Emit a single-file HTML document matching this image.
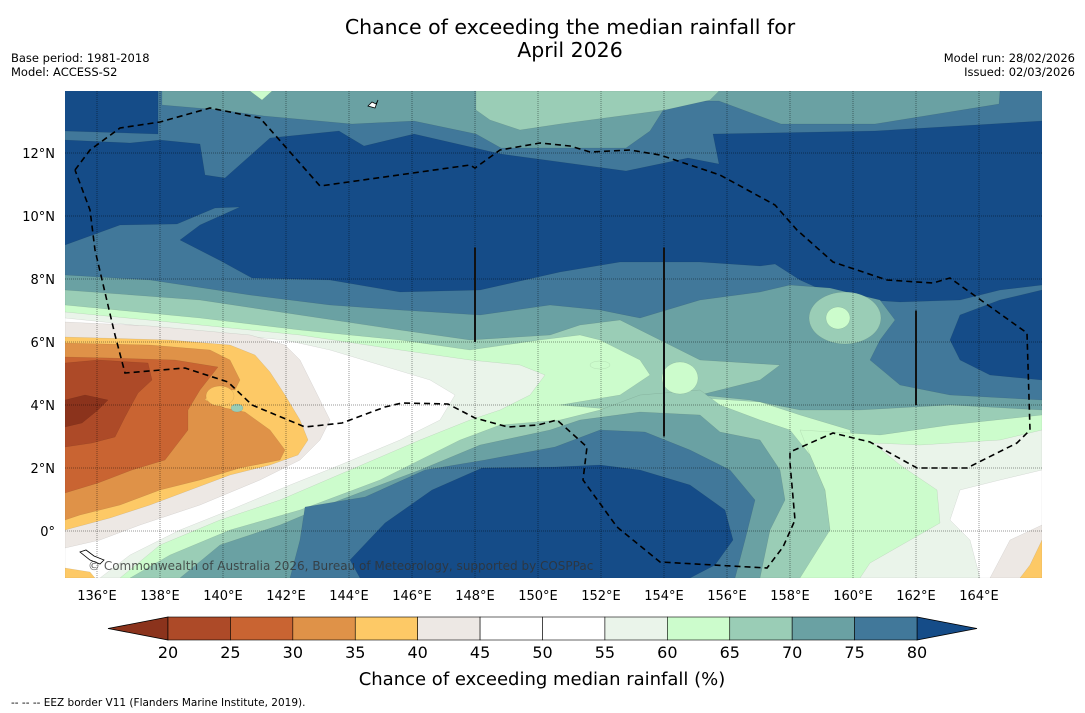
<!DOCTYPE html>
<html><head><meta charset="utf-8"><style>
body{margin:0;background:#fff;width:1085px;height:713px;overflow:hidden;font-family:"DejaVu Sans","Liberation Sans",sans-serif}
svg{position:absolute;left:0;top:0;font-family:"DejaVu Sans","Liberation Sans",sans-serif}
</style></head><body>
<svg id="chart" width="1085" height="713" xmlns="http://www.w3.org/2000/svg">
<text x="570" y="34" text-anchor="middle" font-size="20.5">Chance of exceeding the median rainfall for</text>
<text x="570" y="57" text-anchor="middle" font-size="20.5">April 2026</text>
<text x="11" y="62" font-size="11.5">Base period: 1981-2018</text>
<text x="11" y="76" font-size="11.5">Model: ACCESS-S2</text>
<text x="1075" y="62" font-size="11.5" text-anchor="end">Model run: 28/02/2026</text>
<text x="1075" y="76" font-size="11.5" text-anchor="end">Issued: 02/03/2026</text>
<defs><clipPath id="mapclip"><rect x="65" y="91" width="977" height="487"/></clipPath></defs>
<g id="map" clip-path="url(#mapclip)"></g>
<g id="axes"></g>
<g id="cbar"></g>
<text x="542" y="685" text-anchor="middle" font-size="18">Chance of exceeding median rainfall (%)</text>
<text x="11" y="706" font-size="10.5">--  --  -- EEZ border V11 (Flanders Marine Institute, 2019).</text>
</svg>
<script>
const levels=[20,25,30,35,40,45,50,55,60,65,70,75,80];
const levelColors=["#ad4a28","#c96432","#df9248","#fdc966","#ede8e4","#ffffff","#ffffff","#eaf4ea","#ccfccc","#9acdb6","#6aa1a3","#41789a"];
const underColor="#8b331c", overColor="#154c88";
const lonTicks=[136,138,140,142,144,146,148,150,152,154,156,158,160,162,164];
const latTicks=[0,2,4,6,8,10,12];
const NS="http://www.w3.org/2000/svg";
const xLon=l=>97+(l-136)*31.5;
const yLat=l=>531-l*31.5;
const xLev=v=>168+(v-20)*(749/60);
const C={d:overColor,u:underColor,20:levelColors[0],25:levelColors[1],30:levelColors[2],35:levelColors[3],40:levelColors[4],45:levelColors[5],55:levelColors[7],60:levelColors[8],65:levelColors[9],70:levelColors[10],75:levelColors[11]};
// map contour geometries (pixel space on map projection)
const contourShapes=[
["75",[[158,91],[1042,91],[1042,121],[875,131],[713,134],[719,164],[688,158],[626,171],[501,154],[414,134],[364,146],[339,131],[270,138],[225,178],[205,175],[200,144],[160,140],[130,143],[65,140],[65,131],[158,134]]],
["70",[[162,91],[1000,91],[999,104],[875,124],[781,124],[719,101],[669,101],[650,131],[626,148],[501,148],[476,134],[414,121],[352,124],[264,116],[220,110],[162,105]]],
["65",[[476,91],[719,91],[710,100],[665,110],[620,116],[560,124],[520,130],[490,120],[476,110]]],
["60",[[250,91],[272,91],[262,100]]],
["75",[[65,245],[120,225],[177,224],[215,208],[240,207],[200,225],[180,240],[221,261],[252,278],[330,280],[400,292],[480,290],[560,272],[620,262],[700,262],[760,266],[775,264],[800,280],[840,298],[900,302],[960,300],[1000,290],[1042,285],[1042,578],[65,578]]],
["d",[[1042,290],[1000,300],[960,315],[950,340],[960,360],[990,375],[1042,380]]],
["70",[[65,275],[150,280],[250,295],[330,305],[400,310],[480,315],[550,305],[600,310],[640,318],[700,300],[760,292],[790,285],[830,288],[880,300],[895,320],[880,340],[870,360],[900,385],[950,395],[1042,400],[1042,578],[65,578]]],
["65",[[65,290],[200,300],[300,315],[400,330],[470,340],[550,335],[580,325],[620,320],[660,340],[700,360],[780,365],[760,380],[700,395],[750,400],[800,410],[860,410],[950,405],[1042,410],[1042,578],[65,578]]],
["60",[[65,305],[200,318],[300,330],[400,340],[470,350],[540,340],[580,335],[600,340],[640,360],[650,375],[620,395],[560,405],[620,410],[700,398],[760,402],[800,415],[850,430],[860,470],[840,520],[800,578],[65,578]]],
["55",[[65,312],[200,325],[300,335],[400,350],[470,360],[520,365],[545,375],[530,395],[500,410],[470,420],[420,440],[350,470],[280,500],[220,520],[160,545],[120,578],[65,578]]],
["45",[[65,318],[200,332],[285,340],[330,350],[380,365],[430,380],[455,395],[440,420],[400,440],[340,465],[290,485],[230,510],[180,530],[130,555],[100,578],[65,578]]],
["40",[[65,322],[150,326],[250,335],[285,345],[300,360],[310,380],[320,400],[330,420],[320,440],[300,460],[260,480],[200,505],[140,525],[100,540],[65,548]]],
["35",[[65,337],[170,340],[230,345],[255,355],[270,372],[285,395],[300,420],[308,440],[298,455],[270,465],[230,475],[190,490],[150,505],[110,518],[65,530]]],
["30",[[65,343],[150,345],[210,350],[230,360],[240,380],[235,390],[210,390],[205,400],[225,408],[245,412],[270,430],[285,450],[280,460],[240,468],[200,480],[160,490],[120,505],[80,515],[65,520]]],
["25",[[65,357],[110,358],[175,360],[218,367],[200,390],[188,410],[188,430],[165,460],[132,470],[98,483],[65,493]]],
["20",[[65,363],[98,360],[148,363],[152,380],[138,393],[125,417],[115,437],[92,443],[65,447]]],
["u",[[65,400],[85,395],[108,400],[98,410],[82,423],[65,427]]],
["60",[[800,430],[880,435],[950,425],[1042,415],[1042,578],[790,578],[830,530],[825,490],[810,455]]],
["65",[[130,578],[170,555],[230,530],[300,510],[380,480],[460,440],[500,425],[560,420],[600,410],[640,395],[700,390],[720,405],[760,420],[790,430],[810,455],[825,490],[830,530],[800,578]]],
["70",[[180,578],[220,545],[280,525],[340,500],[420,470],[480,445],[550,430],[580,420],[640,412],[700,415],[720,432],[760,440],[780,470],[785,500],[770,530],[760,578]]],
["75",[[290,578],[300,540],[305,507],[365,497],[425,470],[485,460],[555,447],[600,430],[645,432],[690,450],[730,470],[755,500],[745,540],[735,578]]],
["d",[[360,578],[350,560],[385,523],[432,490],[482,468],[555,467],[600,465],[640,470],[690,485],[725,510],[733,540],[715,565],[690,578]]],
["55",[[873,443],[920,445],[1000,440],[1042,430],[1042,578],[860,578],[870,563],[940,523],[937,490],[900,465]]],
["45",[[960,490],[1000,480],[1042,470],[1042,578],[980,578],[970,540],[950,520]]],
["40",[[1010,540],[1042,525],[1042,578],[990,578]]],
["35",[[1030,565],[1042,540],[1042,578],[1020,578]]],
["35",[[65,568],[90,572],[95,578],[65,578]]]
];
const blobs=[["65",845,318,36,26],["60",838,318,12,11],["60",680,378,18,16],["35",220,396,14,10],["60",600,365,10,4],["65",237,408,6,4]];
const eezPath=[[75,170],[90,150],[120,128],[160,122],[210,108],[260,118],[320,186],[470,165],[475,168],[500,150],[540,143],[570,146],[590,152],[630,150],[660,155],[720,175],[775,205],[797,230],[833,262],[887,280],[933,283],[950,278],[1027,333],[1030,430],[1017,443],[967,468],[917,468],[870,442],[833,433],[790,452],[790,463],[795,520],[783,547],[767,568],[660,562],[617,527],[583,480],[587,447],[557,420],[538,425],[508,427],[475,418],[448,404],[402,403],[385,407],[342,423],[305,427],[252,405],[228,382],[185,368],[125,373],[115,335],[95,250],[90,210],[75,170]];
const blackLines=[[148,6,9],[154,3,9],[162,4,7]];

const map=document.getElementById('map');
function mk(tag,attrs,parent){const e=document.createElementNS(NS,tag);for(const k in attrs)e.setAttribute(k,attrs[k]);parent.appendChild(e);return e;}
const bg=mk('rect',{x:65,y:91,width:977,height:487,fill:overColor},map);


contourShapes.forEach((s,i)=>{
  const p=mk('polygon',{points:s[1].map(q=>q.join(',')).join(' '),fill:C[s[0]],stroke:'rgba(0,0,0,0.12)','stroke-width':0.5},map);
  
  
});
blobs.forEach(b=>{
  const e=mk('ellipse',{cx:b[1],cy:b[2],rx:b[3],ry:b[4],fill:C[b[0]],stroke:'rgba(0,0,0,0.12)','stroke-width':0.5},map);
  
  
});
lonTicks.forEach(l=>{
  const g=mk('line',{x1:xLon(l),x2:xLon(l),y1:91,y2:578,stroke:'rgba(0,0,0,0.4)','stroke-width':1,'stroke-dasharray':'1,1'},map);
  
  
});
latTicks.forEach(l=>{
  const g=mk('line',{x1:65,x2:1042,y1:yLat(l),y2:yLat(l),stroke:'rgba(0,0,0,0.4)','stroke-width':1,'stroke-dasharray':'1,1'},map);
  
  
});
blackLines.forEach(b=>{
  const l=mk('line',{x1:xLon(b[0]),x2:xLon(b[0]),y1:yLat(b[2]),y2:yLat(b[1]),stroke:'#111','stroke-width':2},map);
  
  
});
const eez=mk('polyline',{points:eezPath.map(q=>q.join(',')).join(' '),fill:'none',stroke:'#000','stroke-width':1.6,'stroke-dasharray':'6,4'},map);


const isl=mk('path',{d:'M368,106 l4,-4 l4,2 l2,-4 l-3,8 z M80,552 l6,-2 l8,6 l10,4 l-4,4 l-10,-4 z',fill:'#fff',stroke:'#000','stroke-width':0.8},map);


const cp=mk('text',{x:88,y:570,'font-size':12,fill:'rgba(50,50,50,0.8)'},map);
cp.textContent='© Commonwealth of Australia 2026, Bureau of Meteorology, supported by COSPPac';



const axes=document.getElementById('axes');
lonTicks.forEach(l=>{
  const t=mk('text',{x:xLon(l),y:600,'font-size':13,'text-anchor':'middle'},axes);
  t.textContent=l+'°E';
  
  
});
latTicks.forEach(l=>{
  const t=mk('text',{x:55,y:yLat(l)+5,'font-size':13,'text-anchor':'end'},axes);
  t.textContent=l===0?'0°':l+'°N';
  
  
});

const cb=document.getElementById('cbar');
const y0=617,y1=640;
const lt=mk('polygon',{points:`${xLev(20)},${y0} ${xLev(20)},${y1} 108,${(y0+y1)/2}`,fill:underColor,stroke:'#000','stroke-width':0.8},cb);


const rt=mk('polygon',{points:`${xLev(80)},${y0} ${xLev(80)},${y1} 977,${(y0+y1)/2}`,fill:overColor,stroke:'#000','stroke-width':0.8},cb);


levelColors.forEach((c,i)=>{
  const r=mk('rect',{x:xLev(levels[i]),y:y0,width:xLev(levels[i+1])-xLev(levels[i]),height:y1-y0,fill:c,stroke:'#000','stroke-width':0.6},cb);
  
  
});
levels.forEach(v=>{
  const t=mk('text',{x:xLev(v),y:658,'font-size':16,'text-anchor':'middle'},cb);
  t.textContent=v;
  
  
});
</script>
</body></html>
